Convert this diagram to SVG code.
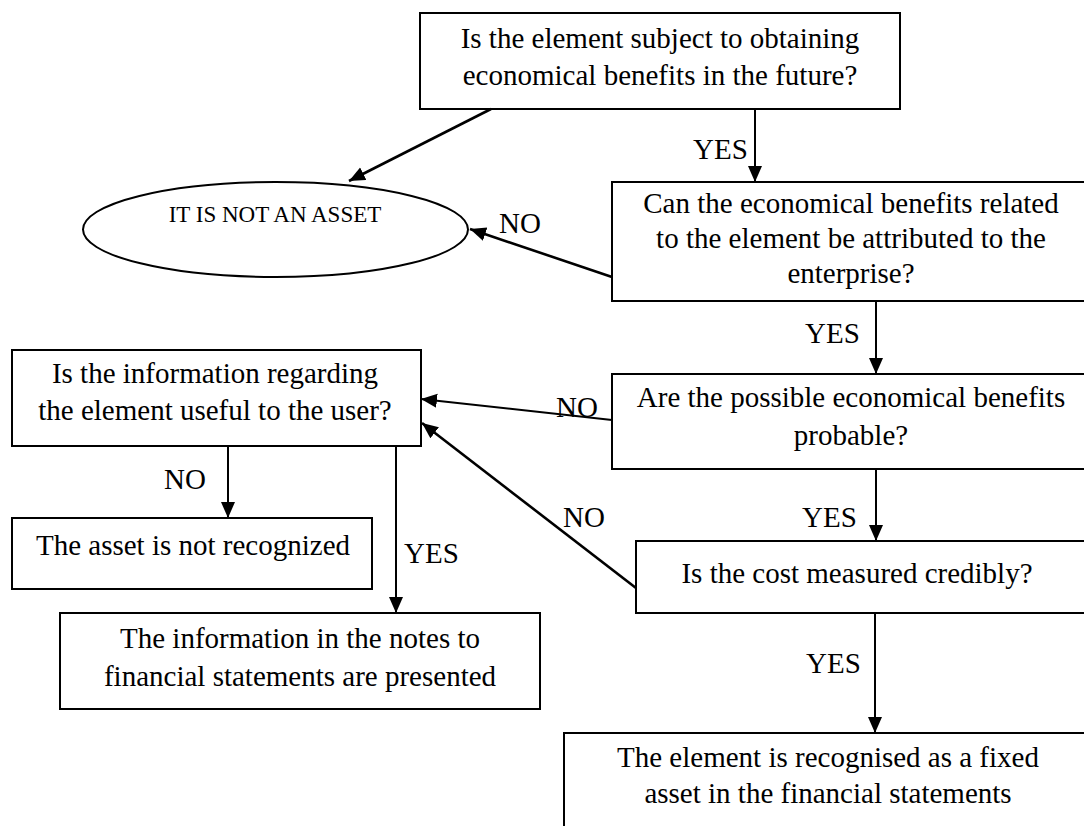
<svg xmlns="http://www.w3.org/2000/svg" width="1084" height="826" viewBox="0 0 1084 826">
<style>
.box{fill:#fff;stroke:#000;stroke-width:2}
.t{font-family:"Liberation Serif","Times New Roman",serif;font-size:29px;fill:#000;text-anchor:middle}
.lbl{font-family:"Liberation Serif","Times New Roman",serif;font-size:29px;fill:#000}
.c{stroke:#000;stroke-width:2;fill:none;marker-end:url(#ah)}
.thick{stroke-width:2.6}
</style>
<defs>
<marker id="ah" markerUnits="userSpaceOnUse" markerWidth="17" markerHeight="15" refX="16" refY="7" orient="auto">
<path d="M0,0 L16,7 L0,14 z" fill="#000"/>
</marker>
</defs>
<rect width="1084" height="826" fill="#fff"/>
<g id="n1"><rect class="box" x="420" y="13" width="480" height="96"/>
<text class="t" x="660" y="48">Is the element subject to obtaining</text>
<text class="t" x="660" y="85">economical benefits in the future?</text></g>
<g id="n2"><ellipse class="box" cx="275.5" cy="229.5" rx="192.5" ry="47.5"/>
<text class="t" x="275" y="222" style="font-size:23px">IT IS NOT AN ASSET</text></g>
<g id="n3"><rect class="box" x="612" y="182" width="480" height="119"/>
<text class="t" x="851" y="213">Can the economical benefits related</text>
<text class="t" x="851" y="248">to the element be attributed to the</text>
<text class="t" x="851" y="283">enterprise?</text></g>
<g id="n4"><rect class="box" x="612" y="374" width="480" height="95"/>
<text class="t" x="851" y="407">Are the possible economical benefits</text>
<text class="t" x="851" y="445">probable?</text></g>
<g id="n5"><rect class="box" x="12" y="350" width="409" height="96"/>
<text class="t" x="215" y="383">Is the information regarding</text>
<text class="t" x="215" y="420">the element useful to the user?</text></g>
<g id="n6"><rect class="box" x="636" y="541" width="456" height="72"/>
<text class="t" x="857" y="583">Is the cost measured credibly?</text></g>
<g id="n7"><rect class="box" x="12" y="518" width="360" height="71"/>
<text class="t" x="193" y="555">The asset is not recognized</text></g>
<g id="n8"><rect class="box" x="60" y="613" width="480" height="96"/>
<text class="t" x="300" y="648">The information in the notes to</text>
<text class="t" x="300" y="686">financial statements are presented</text></g>
<g id="n9"><rect class="box" x="564" y="733" width="530" height="100"/>
<text class="t" x="828" y="767">The element is recognised as a fixed</text>
<text class="t" x="828" y="803">asset in the financial statements</text></g>
<g id="connectors">
<line class="c thick" x1="491" y1="109" x2="349" y2="181"/>
<line class="c" x1="755" y1="109" x2="755" y2="182"/>
<line class="c thick" x1="612" y1="277" x2="470" y2="229"/>
<line class="c" x1="876" y1="301" x2="876" y2="374"/>
<line class="c" x1="612" y1="420" x2="421" y2="399"/>
<line class="c" x1="876" y1="469" x2="876" y2="541"/>
<line class="c thick" x1="636" y1="588" x2="422" y2="423"/>
<line class="c" x1="875" y1="613" x2="875" y2="733"/>
<line class="c" x1="228" y1="446" x2="228" y2="518"/>
<line class="c" x1="396" y1="446" x2="396" y2="613"/>
<text class="lbl" x="693" y="159">YES</text>
<text class="lbl" x="499" y="233">NO</text>
<text class="lbl" x="805" y="343">YES</text>
<text class="lbl" x="556" y="417">NO</text>
<text class="lbl" x="563" y="527">NO</text>
<text class="lbl" x="802" y="527">YES</text>
<text class="lbl" x="806" y="673">YES</text>
<text class="lbl" x="164" y="489">NO</text>
<text class="lbl" x="404" y="563">YES</text>
</g>
</svg>
